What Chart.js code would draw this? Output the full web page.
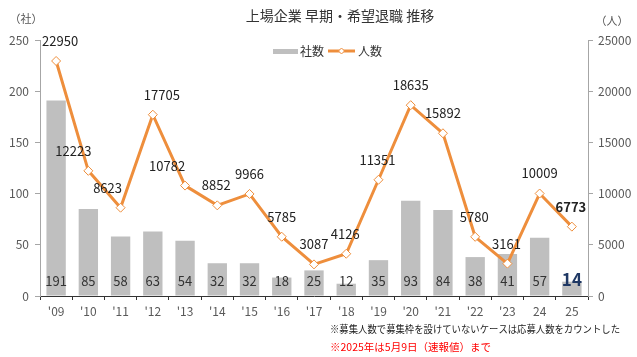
<!DOCTYPE html>
<html><head><meta charset="utf-8">
<script src="https://cdn.jsdelivr.net/npm/chart.js@4"></script>
<style>html,body{margin:0;padding:0;background:#fff;}canvas{display:block;}</style>
</head><body>
<canvas id="c" width="637" height="357"></canvas>
<script>
const categories = ["'09","'10","'11","'12","'13","'14","'15","'16","'17","'18","'19","'20","'21","'22","'23","24","25"];
const companies = [191,85,58,63,54,32,32,18,25,12,35,93,84,38,41,57,14];
const people = [22950,12223,8623,17705,10782,8852,9966,5785,3087,4126,11351,18635,15892,5780,3161,10009,6773];
const leftTicks = [0,50,100,150,200,250];
const rightTicks = [0,5000,10000,15000,20000,25000];

const FONT = '"Noto Sans CJK JP", "Noto Sans", sans-serif';
const ORANGE = '#EE8E3C';
const labelNudgeX = [4,-15,-13,9,-18,-1,0,0,0,-1,-1,0,0,-1,-1,0,-1];

const deco = {
  id: 'deco',
  afterDatasetsDraw(chart) {
    const ctx = chart.ctx;
    ctx.save();
    ctx.textAlign = 'center';
    ctx.textBaseline = 'middle';
    const bm = chart.getDatasetMeta(0);
    const y0 = chart.scales.y.getPixelForValue(0);
    bm.data.forEach((el, i) => {
      const last = i === companies.length - 1;
      ctx.font = (last ? 'bold 17px ' : '13px ') + FONT;
      ctx.fillStyle = last ? '#1F3864' : '#333';
      ctx.fillText(String(companies[i]), el.x, y0 - 15 - (last ? 1 : 0));
    });
    const lm = chart.getDatasetMeta(1);
    lm.data.forEach((el, i) => {
      const last = i === people.length - 1;
      ctx.font = (last ? 'bold 13px ' : '13px ') + FONT;
      ctx.fillStyle = '#222';
      ctx.fillText(String(people[i]), el.x + labelNudgeX[i], el.y - 20);
    });
    ctx.restore();
  },
  afterDraw(chart) {
    const ctx = chart.ctx;
    ctx.save();
    ctx.textBaseline = 'middle';
    ctx.textAlign = 'center';
    ctx.fillStyle = '#333';
    ctx.font = '14px ' + FONT;
    ctx.fillText('上場企業 早期・希望退職 推移', 340, 16);
    ctx.font = '11px ' + FONT;
    ctx.fillStyle = '#555';
    ctx.fillText('（社）', 26, 19);
    ctx.fillText('（人）', 612, 21);
    ctx.fillStyle = '#BFBFBF';
    ctx.fillRect(273, 49, 25, 5);
    ctx.textAlign = 'left';
    ctx.fillStyle = '#333';
    ctx.font = '12px ' + FONT;
    ctx.fillText('社数', 300, 51);
    ctx.strokeStyle = ORANGE;
    ctx.lineWidth = 3;
    ctx.beginPath(); ctx.moveTo(328, 51); ctx.lineTo(355, 51); ctx.stroke();
    ctx.fillStyle = '#fff';
    ctx.strokeStyle = ORANGE; ctx.lineWidth = 1;
    ctx.beginPath(); ctx.moveTo(341.5, 48); ctx.lineTo(344.5, 51); ctx.lineTo(341.5, 54); ctx.lineTo(338.5, 51); ctx.closePath(); ctx.fill(); ctx.stroke();
    ctx.fillStyle = '#333';
    ctx.fillText('人数', 358, 51);
    ctx.font = '10px ' + FONT;
    ctx.fillStyle = '#222';
    ctx.fillText('※募集人数で募集枠を設けていないケースは応募人数をカウントした', 330, 329, 290);
    ctx.fillStyle = '#FF0000';
    ctx.font = '10.5px ' + FONT;
    ctx.fillText('※2025年は5月9日（速報値）まで', 330, 347);
    ctx.restore();
  }
};

new Chart(document.getElementById('c'), {
  data: {
    labels: categories,
    datasets: [
      { type: 'bar', label: '社数', data: companies, yAxisID: 'y', backgroundColor: '#BFBFBF',
        barPercentage: 0.6, categoryPercentage: 1.0, order: 2 },
      { type: 'line', label: '人数', data: people, yAxisID: 'y1', borderColor: ORANGE, borderWidth: 3,
        tension: 0, pointStyle: 'rectRot', pointRadius: 4.5, pointBackgroundColor: '#fff',
        pointBorderColor: ORANGE, pointBorderWidth: 1, order: 1 }
    ]
  },
  options: {
    responsive: false,
    animation: false,
    devicePixelRatio: 1,
    layout: { padding: { top: 40, left: 0, right: 0, bottom: 0 } },
    plugins: { legend: { display: false }, title: { display: false }, tooltip: { enabled: false } },
    scales: {
      x: {
        offset: true,
        grid: { display: true, drawOnChartArea: false, offset: true, tickLength: 4, color: '#333' },
        border: { color: '#333', width: 1 },
        ticks: { color: '#595959', font: { size: 12, family: FONT }, padding: 4, maxRotation: 0 },
        afterFit: s => { s.height = 61; }
      },
      y: {
        position: 'left', min: 0, max: 250,
        afterBuildTicks: s => { s.ticks = leftTicks.map(v => ({ value: v })); },
        grid: { drawOnChartArea: false, tickLength: 5, color: '#A6A6A6' },
        border: { color: '#A6A6A6' },
        ticks: { color: '#595959', font: { size: 12, family: FONT }, padding: 6, callback: v => String(v) },
        afterFit: s => { s.width = 40; }
      },
      y1: {
        position: 'right', min: 0, max: 25000,
        afterBuildTicks: s => { s.ticks = rightTicks.map(v => ({ value: v })); },
        grid: { drawOnChartArea: false, tickLength: 5, color: '#A6A6A6' },
        border: { color: '#A6A6A6' },
        ticks: { color: '#595959', font: { size: 12, family: FONT }, padding: 5, callback: v => String(v) },
        afterFit: s => { s.width = 49; }
      }
    }
  },
  plugins: [deco]
});
</script>
</body></html>
